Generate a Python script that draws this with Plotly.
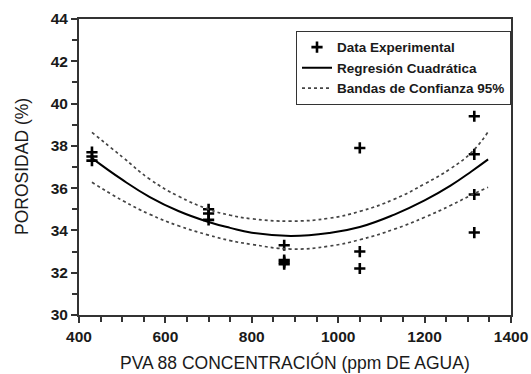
import plotly.graph_objects as go

# Experimental data (ppm de agua, porosidad %)
data_x = [430, 430, 430, 700, 700, 700, 875, 875, 875, 875, 1050, 1050, 1050, 1315, 1315, 1315, 1315]
data_y = [37.7, 37.5, 37.3, 35.0, 34.8, 34.5, 33.3, 32.6, 32.5, 32.4, 37.9, 33.0, 32.2, 39.4, 37.6, 35.7, 33.9]

# Fitted curve and 95% confidence bands
curve_x = [430, 500, 564, 630, 700, 750, 800, 890, 980, 1050, 1130, 1200, 1260, 1309, 1347]
curve_y = [37.42, 36.40, 35.58, 34.92, 34.40, 34.12, 33.89, 33.74, 33.88, 34.16, 34.75, 35.42, 36.12, 36.80, 37.36]
upper_y = [38.64, 37.48, 36.42, 35.62, 35.00, 34.72, 34.55, 34.44, 34.58, 34.90, 35.48, 36.20, 36.92, 37.70, 38.66]
lower_y = [36.28, 35.42, 34.76, 34.22, 33.78, 33.52, 33.34, 33.12, 33.26, 33.56, 34.06, 34.62, 35.18, 35.68, 36.04]

x_ticks = [400, 600, 800, 1000, 1200, 1400]
y_ticks = [30, 32, 34, 36, 38, 40, 42, 44]

x_title = "PVA 88 CONCENTRACIÓN (ppm DE AGUA)"
y_title = "POROSIDAD (%)"

fig = go.Figure()
fig.add_trace(go.Scatter(
    x=data_x, y=data_y, mode="markers", name="Data Experimental",
    marker=dict(symbol="cross-thin", size=8, color="black",
                line=dict(width=2.6, color="black")),
))
fig.add_trace(go.Scatter(
    x=curve_x, y=curve_y, mode="lines", name="Regresión Cuadrática",
    line=dict(color="black", width=2, shape="spline", smoothing=1.3),
))
fig.add_trace(go.Scatter(
    x=curve_x, y=upper_y, mode="lines", name="Bandas de Confianza 95%",
    line=dict(color="#444", width=1.7, dash="dot", shape="spline", smoothing=1.3),
))
fig.add_trace(go.Scatter(
    x=curve_x, y=lower_y, mode="lines", name="Bandas de Confianza 95%",
    line=dict(color="#444", width=1.7, dash="dot", shape="spline", smoothing=1.3),
    showlegend=False,
))

FAM = "Liberation Sans, Arial, sans-serif"
tickfont = dict(family=FAM, size=15.5, color="#1a1a1a", weight=700)
titlefont = dict(family=FAM, size=17.5, color="#1a1a1a")

fig.update_layout(
    width=531, height=374,
    margin=dict(l=79, r=20, t=19, b=59, autoexpand=False),
    paper_bgcolor="white", plot_bgcolor="white",
    showlegend=True,
    legend=dict(
        x=1, xanchor="right", y=0.96, yanchor="top",
        bgcolor="white", bordercolor="#333", borderwidth=1,
        font=dict(family=FAM, size=13.5, color="#1a1a1a", weight=700),
        itemwidth=30, tracegroupgap=0,
    ),
    xaxis=dict(
        range=[400, 1400], tickvals=x_ticks, ticktext=["<b>%d</b>" % v for v in x_ticks],
        ticks="outside", ticklen=6, tickwidth=1.5, tickcolor="#333",
        minor=dict(dtick=50, ticks="outside", ticklen=5, tickwidth=1.5, tickcolor="#333"),
        showline=True, linewidth=2, linecolor="#333", mirror=True,
        showgrid=False, zeroline=False, tickfont=tickfont, automargin=False,
    ),
    yaxis=dict(
        range=[30, 44], tickvals=y_ticks, ticktext=["<b>%d</b>" % v for v in y_ticks],
        ticks="outside", ticklen=6, tickwidth=1.5, tickcolor="#333",
        minor=dict(dtick=1, ticks="outside", ticklen=5, tickwidth=1.5, tickcolor="#333"),
        showline=True, linewidth=2, linecolor="#333", mirror=True,
        showgrid=False, zeroline=False, tickfont=tickfont, automargin=False,
    ),
    annotations=[
        dict(text=x_title, xref="paper", yref="paper", x=0.5, y=0, xanchor="center",
             yanchor="middle", yshift=-47, showarrow=False, font=titlefont),
        dict(text=y_title, xref="paper", yref="paper", x=0, y=0.5, xanchor="center",
             yanchor="middle", xshift=-57, textangle=-90, showarrow=False, font=titlefont),
    ],
)

fig.write_html(
    "out.html",
    config={"displayModeBar": False},
    post_script="document.body.style.margin='0';document.body.style.overflow='hidden';",
)
